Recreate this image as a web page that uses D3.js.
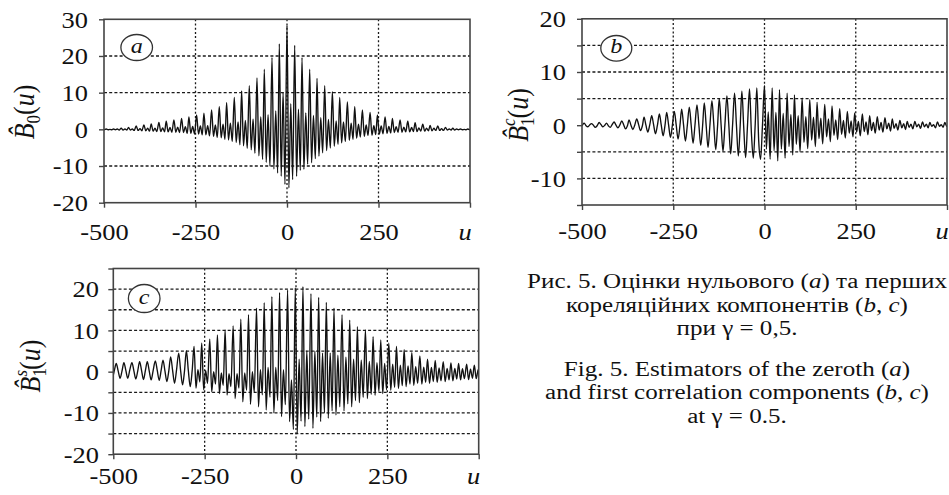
<!DOCTYPE html>
<html><head><meta charset="utf-8">
<script src="https://cdn.jsdelivr.net/npm/d3@7"></script>
<style>
html,body{margin:0;padding:0;background:#fff;}
svg{display:block;}
</style></head><body>
<svg id="fig" width="949" height="495"></svg>
<script>
// ---------- DATA ----------
const xTicks = [-500, -250, 0, 250, 500];
const xTickLabels = ["-500", "-250", "0", "250", ""];
const xGrid = [-250, 0, 250];

const yTicksA = [-20, -10, 0, 10, 20, 30];
const yLabelsA = [-20, -10, 0, 10, 20, 30];
const yGridA = [20, 10, -10];

const yTicksB = [-15, -10, -5, 0, 5, 10, 15, 20];
const yLabelsB = [-10, 0, 10, 20];
const yGridB = [15, 10, 5, -5, -10];

const yTicksC = [-20, -15, -10, -5, 0, 5, 10, 15, 20, 25];
const yLabelsC = [-20, -10, 0, 10, 20];
const yGridC = [20, 15, 10, 5, -5, -10, -15];

// u positions of the main oscillation peaks (one per period) and the quarter-period step
const uPeaksAB = [-515,-494,-474,-453,-433,-412,-391,-371,-350,-330,-309,-288,-268,-247,-227,-206,-185,-165,-144,-124,-103,-82,-62,-41,-21,0,21,41,62,82,103,124,144,165,185,206,227,247,268,288,309,330,350,371,391,412,433,453,474,494];
const quarterAB = 5.15;
const uPeaksC = [-513,-492,-471,-449,-428,-407,-385,-364,-343,-321,-300,-279,-258,-236,-215,-194,-172,-151,-130,-108,-87,-66,-45,-23,-2,19,41,62,83,104,126,147,168,190,211,232,254,275,296,317,339,360,381,403,424,445,467,488,509];
const quarterC = 5.3;

// panel a : B0(u) values at the four quarter-period samples of each period
const aPeak = [0.0,0.1,0.1,0.3,0.5,0.9,1.2,1.5,1.9,2.2,2.6,3.0,3.4,3.9,4.4,5.3,6.2,7.3,8.7,10.5,11.9,14.0,16.4,19.6,23.3,28.3,22.9,19.6,16.4,13.9,11.9,10.3,8.7,7.5,6.2,5.3,4.6,3.9,3.4,3.0,2.6,2.2,1.8,1.4,1.1,0.9,0.5,0.3,0.1,0.1];
const aLow1 = [-0.1,-0.1,-0.1,-0.2,-0.2,-0.3,-0.4,-0.5,-0.6,-0.7,-0.8,-0.9,-1.1,-1.3,-1.5,-1.9,-2.3,-2.9,-3.6,-4.5,-5.6,-7.2,-9.0,-10.8,-12.8,-16.0,-12.8,-10.9,-9.1,-7.3,-5.8,-4.6,-3.7,-3.0,-2.4,-1.9,-1.6,-1.3,-1.1,-0.9,-0.8,-0.7,-0.6,-0.5,-0.4,-0.3,-0.2,-0.2,-0.1,-0.1];
const aMid = [0.0,0.0,0.1,0.1,0.1,0.2,0.3,0.3,0.4,0.5,0.6,0.7,0.8,0.9,1.0,1.2,1.4,1.7,2.0,2.4,2.8,3.4,4.0,5.0,10.0,7.0,5.5,4.5,3.8,3.2,2.7,2.3,2.0,1.7,1.4,1.2,1.0,0.9,0.8,0.7,0.6,0.5,0.4,0.3,0.3,0.2,0.1,0.1,0.0,0.0];
const aLow2 = [-0.1,-0.1,-0.2,-0.2,-0.3,-0.4,-0.5,-0.6,-0.7,-0.8,-0.9,-1.1,-1.3,-1.5,-1.8,-2.2,-2.7,-3.3,-4.2,-5.2,-6.5,-8.2,-10.0,-11.9,-15.0,-13.7,-11.2,-9.5,-8.0,-6.4,-5.1,-4.1,-3.3,-2.7,-2.1,-1.7,-1.4,-1.2,-1.0,-0.8,-0.7,-0.6,-0.5,-0.4,-0.3,-0.3,-0.2,-0.1,-0.1,-0.1];

// panel b : B1c(u)
const bPeak = [0.3,0.4,0.3,0.5,0.4,0.6,0.8,1.0,1.2,1.5,1.8,2.1,2.4,2.6,3.0,3.4,3.8,4.2,4.6,5.0,5.5,6.0,6.4,6.8,7.0,7.5,7.0,6.7,6.0,5.7,5.1,4.8,4.3,3.9,3.6,3.1,2.6,2.3,2.1,1.8,1.6,1.4,1.2,0.9,0.7,0.7,0.6,0.5,0.6,0.5];
const bQ1 = [0.1,-0.1,0.0,0.1,-0.1,0.0,0.1,0.0,0.1,0.0,0.1,0.0,0.1,0.0,0.1,0.0,0.1,0.0,0.1,0.0,0.2,0.0,-0.5,-1.5,-3.0,-4.5,-4.8,-4.5,-4.0,-3.6,-3.2,-2.8,-2.5,-2.2,-1.9,-1.7,-1.5,-1.3,-1.2,-1.0,-0.9,-0.7,-0.6,-0.5,-0.4,-0.3,-0.3,-0.2,-0.2,-0.2];
const bQ2 = [-0.3,-0.3,-0.4,-0.3,-0.4,-0.5,-0.7,-0.8,-1.0,-1.3,-1.6,-2.0,-2.3,-2.6,-3.0,-3.4,-3.8,-4.2,-4.6,-4.9,-5.4,-5.8,-6.1,-6.2,-6.4,2.5,2.4,2.2,2.0,1.8,1.6,1.5,1.3,1.2,1.0,0.9,0.8,0.7,0.6,0.5,0.5,0.4,0.3,0.3,0.2,0.2,0.2,0.1,0.1,0.1];
const bQ3 = [0.0,0.1,-0.1,0.0,0.1,0.0,-0.1,0.0,-0.1,0.0,-0.1,0.0,-0.1,0.0,-0.1,0.0,-0.1,0.0,-0.1,0.0,-0.1,0.0,0.0,0.0,0.0,-6.4,-6.7,-6.2,-5.6,-5.0,-4.4,-4.0,-3.5,-3.1,-2.7,-2.4,-2.2,-2.0,-1.8,-1.5,-1.3,-1.1,-0.9,-0.8,-0.7,-0.6,-0.5,-0.5,-0.4,-0.4];

// panel c : B1s(u)
const cPeak = [1.8,2.0,2.2,2.2,2.4,2.4,2.6,2.8,3.6,4.5,5.1,6.1,6.9,7.9,8.9,10.1,11.1,12.7,13.8,15.4,16.7,18.2,19.2,19.8,20.3,20.6,18.9,18.0,16.8,15.4,13.8,12.5,10.9,10.1,8.5,7.7,6.9,6.1,5.3,4.6,3.8,3.0,2.7,2.4,2.1,2.0,1.8,1.6,1.4];
const cQ1 = [0.3,0.2,0.3,0.2,0.3,0.2,0.3,0.2,0.3,0.2,0.3,-4.0,-4.4,-4.9,-5.3,-5.7,-6.5,-7.3,-7.9,-8.5,-9.3,-10.0,-10.9,-12.1,-15.0,-13.3,-13.7,-12.1,-11.3,-10.5,-9.5,-8.5,-7.5,-6.5,-5.7,-5.3,-4.5,-4.1,-3.6,-3.3,-3.0,-2.8,-2.6,-2.4,-2.2,-2.0,-1.9,-1.7,-1.5];
const cQ2 = [-1.5,-1.6,-1.6,-1.8,-1.9,-2.0,-2.1,-2.4,-2.8,-3.2,-3.6,0.5,0.3,0.0,-0.3,-0.5,-0.5,-0.3,0.0,0.5,1.0,1.0,0.5,-2.0,3.0,5.0,5.0,4.5,4.5,4.0,3.5,3.0,2.8,2.5,2.2,2.0,1.8,1.6,1.4,1.2,1.1,1.0,0.9,0.8,0.8,0.7,0.6,0.5,0.5];
const cQ3 = [0.3,0.2,0.3,0.2,0.3,0.2,0.3,0.2,0.3,0.2,0.3,-2.5,-2.8,-3.0,-3.3,-3.6,-4.0,-4.5,-5.0,-5.6,-6.2,-7.0,-8.0,-14.0,-12.0,-11.5,-11.0,-10.0,-9.5,-8.5,-7.8,-7.0,-6.2,-5.5,-4.8,-4.4,-3.8,-3.4,-3.0,-2.8,-2.6,-2.4,-2.2,-2.0,-1.8,-1.7,-1.6,-1.4,-1.3];

const panelLetters = ["a", "b", "c"];

const captionLines = [
  [["Рис. 5. Оцінки нульового (", false], ["a", true], [") та перших", false]],
  [["кореляційних компонентів (", false], ["b", true], [", ", false], ["c", true], [")", false]],
  [["при γ = 0,5.", false]],
  [["Fig. 5. Estimators of the zeroth (", false], ["a", true], [")", false]],
  [["and first correlation components (", false], ["b", true], [", ", false], ["c", true], [")", false]],
  [["at γ = 0.5.", false]]
];

// ---------- DRAWING ----------
const SX = 1.15;       // horizontal stretch of the original picture
const FONT = "'Liberation Serif'";
const svg = d3.select("#fig");

function serif(sel) { return sel.style("font-family", FONT).style("fill", "#111"); }

function samples(uPeaks, q, s0, s1, s2, s3) {
  const pts = [];
  uPeaks.forEach((u, i) => {
    pts.push([u, s0[i]], [u + q, s1[i]], [u + 2 * q, s2[i]], [u + 3 * q, s3[i]]);
  });
  return pts;
}

function drawPanel(p, idx) {
  const g = svg.append("g");
  const x = d3.scaleLinear().domain([-500, 500]).range([p.left, p.right]);
  const y = d3.scaleLinear().domain(p.yDomain).range([p.bottom, p.top]);

  // grid
  g.append("g").selectAll("line").data(p.hGrid).join("line")
    .attr("x1", p.left).attr("x2", p.right)
    .attr("y1", d => y(d)).attr("y2", d => y(d))
    .attr("stroke", "#1a1a1a").attr("stroke-width", 1.3).attr("stroke-dasharray", "3,2.2");
  g.append("g").selectAll("line").data(xGrid).join("line")
    .attr("x1", d => x(d)).attr("x2", d => x(d))
    .attr("y1", p.top).attr("y2", p.bottom)
    .attr("stroke", "#1a1a1a").attr("stroke-width", 1.3).attr("stroke-dasharray", "2,2.2");

  // data
  const cid = "clip" + idx;
  svg.append("clipPath").attr("id", cid).append("rect")
    .attr("x", p.left).attr("y", p.top).attr("width", p.right - p.left).attr("height", p.bottom - p.top);
  const line = d3.line().x(d => x(d[0])).y(d => y(d[1])).curve(d3.curveMonotoneX);
  g.append("path").datum(p.points).attr("clip-path", `url(#${cid})`)
    .attr("d", line).attr("fill", "none").attr("stroke", "#111").attr("stroke-width", 1.35)
    .attr("stroke-linejoin", "round");

  // frame
  g.append("rect").attr("x", p.left).attr("y", p.top)
    .attr("width", p.right - p.left).attr("height", p.bottom - p.top)
    .attr("fill", "none").attr("stroke", "#444").attr("stroke-width", 1.6);

  // y axis
  const ya = d3.axisLeft(y).tickValues(p.yTicks).tickSize(5).tickSizeOuter(0)
    .tickFormat(d => p.yLabels.includes(d) ? String(d) : "");
  g.append("g").attr("transform", `translate(${p.left},0)`).call(ya)
    .attr("font-family", null).attr("font-size", null)
    .call(a => a.select(".domain").remove())
    .call(a => a.selectAll("line").attr("stroke", "#444").attr("stroke-width", 1.4))
    .call(a => serif(a.selectAll("text")).attr("x", null).attr("dy", "0.34em")
      .attr("font-size", 23).attr("text-anchor", "end")
      .attr("transform", `translate(${p.yLabelX - p.left},0) scale(${SX},1)`));

  // x axis
  const xa = d3.axisBottom(x).tickValues(xTicks).tickSize(5).tickSizeOuter(0)
    .tickFormat((d, i) => xTickLabels[i]);
  g.append("g").attr("transform", `translate(0,${p.bottom})`).call(xa)
    .attr("font-family", null).attr("font-size", null)
    .call(a => a.select(".domain").remove())
    .call(a => a.selectAll("line").attr("stroke", "#444").attr("stroke-width", 1.4))
    .call(a => serif(a.selectAll("text")).attr("y", null).attr("dy", null)
      .attr("font-size", 23).attr("text-anchor", "middle")
      .attr("transform", `translate(0,${p.xLabelY - p.bottom}) scale(${SX},1)`));

  // "u" axis name
  serif(g.append("text")).attr("font-size", 23).attr("font-style", "italic").attr("text-anchor", "middle")
    .attr("transform", `translate(${p.right - 5},${p.xLabelY}) scale(${SX},1)`).text("u");

  // y title
  const t = serif(g.append("text")).attr("font-size", 26).attr("text-anchor", "middle")
    .attr("transform", `translate(${p.titleX},${p.titleY}) scale(${SX},1) rotate(-90)`);
  t.append("tspan").attr("font-style", "italic").text("B\u0302");
  t.append("tspan").attr("font-size", 17).attr("dy", 5).text(p.sub);
  if (p.sup) {
    t.append("tspan").attr("font-size", 17).attr("font-style", "italic").attr("dx", -8.5).attr("dy", -16).text(p.sup);
    t.append("tspan").attr("dy", 11).text("(");
  } else {
    t.append("tspan").attr("dy", -5).text("(");
  }
  t.append("tspan").attr("font-style", "italic").text("u");
  t.append("tspan").text(")");

  // circled letter
  g.append("ellipse").attr("cx", p.circ[0]).attr("cy", p.circ[1]).attr("rx", p.circ[2]).attr("ry", p.circ[3])
    .attr("fill", "#fff").attr("stroke", "#333").attr("stroke-width", 1.3);
  serif(g.append("text")).attr("font-size", 21).attr("font-style", "italic").attr("text-anchor", "middle")
    .attr("transform", `translate(${p.circ[0]},${p.circ[1] + 5}) scale(${SX},1)`).text(panelLetters[idx]);
}

const panels = [
  { left: 104, right: 470, top: 19.3, bottom: 202.7, yDomain: [-20, 30],
    yTicks: yTicksA, yLabels: yLabelsA, hGrid: yGridA, yLabelX: 88, xLabelY: 240,
    titleX: 34, titleY: 112, sub: "0", sup: null, circ: [136.7, 47.5, 15.8, 13],
    points: samples(uPeaksAB, quarterAB, aPeak, aLow1, aMid, aLow2) },
  { left: 582, right: 947, top: 18.8, bottom: 205, yDomain: [-15, 20],
    yTicks: yTicksB, yLabels: yLabelsB, hGrid: yGridB, yLabelX: 566, xLabelY: 239,
    titleX: 528, titleY: 115, sub: "1", sup: "c", circ: [616.3, 48.3, 15.5, 12.8],
    points: samples(uPeaksAB, quarterAB, bPeak, bQ1, bQ2, bQ3) },
  { left: 113.3, right: 478.7, top: 268.5, bottom: 454.2, yDomain: [-20, 25],
    yTicks: yTicksC, yLabels: yLabelsC, hGrid: yGridC, yLabelX: 99, xLabelY: 484,
    titleX: 40, titleY: 366, sub: "1", sup: "s", circ: [144.2, 298.5, 15.8, 14],
    points: samples(uPeaksC, quarterC, cPeak, cQ1, cQ2, cQ3) }
];
panels.forEach(drawPanel);

// caption: one common horizontal stretch, fitted to the long lines
const capY = [288, 311.5, 335, 376, 399, 422.5];
const capX = 737;
const capLong = { 0: 420, 4: 405 };
const capNodes = captionLines.map((segs, i) => {
  const t = serif(svg.append("text")).attr("font-size", 20).attr("text-anchor", "middle");
  segs.forEach(s => t.append("tspan").attr("font-style", s[1] ? "italic" : null).text(s[0]));
  return t;
});
const capS = d3.min(Object.keys(capLong), k => capLong[k] / capNodes[+k].node().getComputedTextLength());
capNodes.forEach((t, i) => t.attr("transform", `translate(${capX},${capY[i]}) scale(${capS},1)`));
</script>
</body></html>
